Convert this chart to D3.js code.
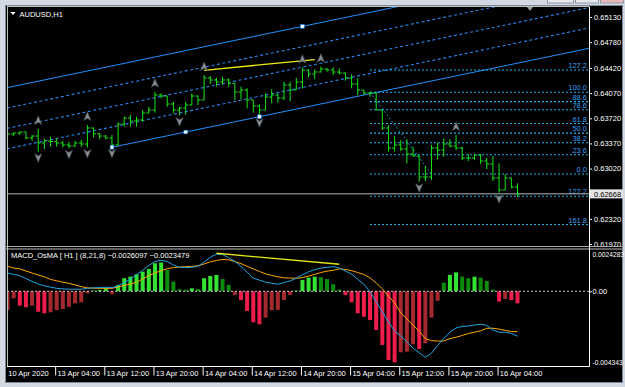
<!DOCTYPE html>
<html><head><meta charset="utf-8">
<script src="https://cdn.jsdelivr.net/npm/d3@7"></script>
<style>
html,body{margin:0;padding:0;background:#d2d9e3;overflow:hidden}
svg{display:block}
</style></head><body>
<svg id="c" width="625" height="387"></svg>
<script>
// ---------- DATA ----------
const symbolTitle = "AUDUSD,H1";
const opens=[0.63487,0.63501,0.63515,0.63529,0.63446,0.63473,0.63376,0.63404,0.63397,0.63376,
 0.63348,0.63334,0.63376,0.63362,0.63585,0.63505,0.63473,0.63446,0.63348,0.63640,
 0.63724,0.63682,0.63696,0.63794,0.63835,0.64044,0.64030,0.63919,0.63835,0.63863,
 0.63905,0.64030,0.63975,0.64281,0.64253,0.64225,0.64253,0.64207,0.64086,0.64114,
 0.63975,0.63891,0.63835,0.64016,0.64044,0.64002,0.64183,0.64114,0.64225,0.64392,
 0.64336,0.64364,0.64406,0.64392,0.64364,0.64350,0.64281,0.64197,0.64114,0.64072,
 0.64072,0.63835,0.63585,0.63306,0.63348,0.63292,0.63223,0.63195,0.62903,0.62903,
 0.63306,0.63278,0.63362,0.63334,0.63306,0.63167,0.63167,0.63209,0.63125,0.63084,
 0.62889,0.62722,0.62889,0.62763];
const highs=[0.63515,0.63519,0.63533,0.63533,0.63487,0.63571,0.63441,0.63464,0.63441,0.63408,
 0.63394,0.63408,0.63418,0.63627,0.63590,0.63511,0.63487,0.63487,0.63664,0.63742,
 0.63766,0.63742,0.63835,0.63881,0.64090,0.64068,0.64030,0.63951,0.63881,0.63951,
 0.64068,0.64035,0.64323,0.64309,0.64285,0.64299,0.64277,0.64207,0.64160,0.64137,
 0.63975,0.63915,0.64068,0.64124,0.64068,0.64229,0.64229,0.64285,0.64424,0.64402,
 0.64402,0.64438,0.64416,0.64430,0.64416,0.64355,0.64332,0.64277,0.64114,0.64090,
 0.64076,0.63835,0.63627,0.63473,0.63418,0.63428,0.63324,0.63200,0.63056,0.63348,
 0.63380,0.63441,0.63428,0.63487,0.63324,0.63223,0.63223,0.63223,0.63171,0.63195,
 0.63093,0.62940,0.62893,0.62815];
const lows=[0.63460,0.63473,0.63487,0.63428,0.63408,0.63255,0.63292,0.63324,0.63324,0.63316,
 0.63302,0.63324,0.63324,0.63313,0.63455,0.63428,0.63428,0.63316,0.63338,0.63603,
 0.63603,0.63603,0.63673,0.63790,0.63798,0.63998,0.63881,0.63790,0.63759,0.63766,
 0.63905,0.63905,0.63975,0.64197,0.64160,0.64183,0.64160,0.63975,0.63984,0.63859,
 0.63798,0.63742,0.63835,0.63929,0.63937,0.63975,0.63961,0.64114,0.64137,0.64291,
 0.64263,0.64360,0.64369,0.64323,0.64332,0.64243,0.64137,0.64044,0.64044,0.64021,
 0.63835,0.63557,0.63255,0.63255,0.63265,0.63093,0.63185,0.62837,0.62843,0.62861,
 0.63149,0.63185,0.63316,0.63278,0.63139,0.63125,0.63139,0.63084,0.63010,0.62847,
 0.62684,0.62720,0.62745,0.62628];
const closes=[0.63501,0.63515,0.63529,0.63446,0.63473,0.63376,0.63404,0.63397,0.63376,0.63348,
 0.63334,0.63376,0.63362,0.63585,0.63505,0.63473,0.63446,0.63348,0.63640,0.63724,
 0.63682,0.63696,0.63794,0.63835,0.64044,0.64030,0.63919,0.63835,0.63863,0.63905,
 0.64030,0.63975,0.64281,0.64253,0.64225,0.64253,0.64207,0.64086,0.64114,0.63975,
 0.63891,0.63835,0.64016,0.64044,0.64002,0.64183,0.64114,0.64225,0.64392,0.64336,
 0.64364,0.64406,0.64392,0.64364,0.64350,0.64281,0.64197,0.64114,0.64072,0.64072,
 0.63835,0.63585,0.63306,0.63348,0.63292,0.63223,0.63195,0.62903,0.62903,0.63306,
 0.63278,0.63362,0.63334,0.63306,0.63167,0.63167,0.63209,0.63125,0.63084,0.62889,
 0.62722,0.62889,0.62763,0.62668];

const osma=[-0.00109,-0.00041,-0.00084,-0.00093,-0.00084,-0.00119,-0.00128,-0.00122,-0.00109,-0.00103,
 -0.00090,-0.00070,-0.00064,-0.00012,0.00005,0.00008,0.00017,-0.00017,0.00037,0.00076,
 0.00085,0.00099,0.00114,0.00130,0.00163,0.00167,0.00124,0.00056,0.00012,0.00009,
 0.00017,0.00013,0.00076,0.00089,0.00095,0.00071,0.00037,-0.00022,-0.00051,-0.00114,
 -0.00180,-0.00192,-0.00153,-0.00110,-0.00108,-0.00051,-0.00022,0.00005,0.00066,0.00079,
 0.00085,0.00082,0.00071,0.00041,0.00009,-0.00022,-0.00064,-0.00128,-0.00148,-0.00167,
 -0.00225,-0.00312,-0.00399,-0.00413,-0.00355,-0.00351,-0.00308,-0.00335,-0.00302,-0.00153,
 -0.00055,0.00050,0.00095,0.00110,0.00085,0.00076,0.00085,0.00079,0.00060,0.00009,
 -0.00060,-0.00045,-0.00051,-0.00070];
const macd=[0.00106,0.00098,0.00091,0.00074,0.00057,0.00042,0.00031,0.00024,0.00017,0.00014,
 0.00012,0.00012,0.00012,0.00017,0.00020,0.00022,0.00023,0.00022,0.00031,0.00051,
 0.00071,0.00097,0.00122,0.00150,0.00173,0.00180,0.00173,0.00153,0.00139,0.00138,
 0.00139,0.00146,0.00170,0.00198,0.00215,0.00213,0.00195,0.00174,0.00144,0.00111,
 0.00076,0.00065,0.00053,0.00047,0.00041,0.00051,0.00060,0.00076,0.00095,0.00113,
 0.00126,0.00135,0.00139,0.00143,0.00135,0.00118,0.00099,0.00070,0.00041,-0.00002,
 -0.00062,-0.00120,-0.00178,-0.00231,-0.00260,-0.00295,-0.00330,-0.00357,-0.00384,-0.00360,
 -0.00315,-0.00274,-0.00237,-0.00213,-0.00204,-0.00202,-0.00196,-0.00192,-0.00198,-0.00225,
 -0.00238,-0.00238,-0.00245,-0.0026097];
const signal=[0.00145,0.00135,0.00130,0.00118,0.00106,0.00095,0.00084,0.00069,0.00061,0.00053,
 0.00046,0.00037,0.00027,0.00020,0.00018,0.00017,0.00017,0.00017,0.00025,0.00034,
 0.00041,0.00053,0.00071,0.00091,0.00106,0.00120,0.00131,0.00138,0.00141,0.00143,
 0.00145,0.00148,0.00159,0.00171,0.00179,0.00185,0.00183,0.00172,0.00161,0.00145,
 0.00130,0.00115,0.00101,0.00092,0.00084,0.00078,0.00077,0.00076,0.00079,0.00088,
 0.00098,0.00109,0.00117,0.00122,0.00130,0.00127,0.00120,0.00109,0.00098,0.00078,
 0.00048,0.00015,-0.00029,-0.00067,-0.00126,-0.00161,-0.00197,-0.00231,-0.00275,-0.00287,
 -0.00289,-0.00289,-0.00275,-0.00267,-0.00257,-0.00246,-0.00238,-0.00230,-0.00215,-0.00215,
 -0.00220,-0.00227,-0.00234,-0.0023479];
const macdName = "MACD_OsMA [ H1 ] (8,21,8)";
const macdMax = 0.0024283, macdMin = -0.004343;
const macdTickLabels = ["0.0024283","0.00","-0.004343"];

const priceTicks=[0.65130,0.64780,0.64420,0.64070,0.63720,0.63370,0.63020,0.62320,0.61970];
const bidPrice=0.62668;
const timeIdx=[0,8,16,24,32,40,48,56,64,72,80];
const timeLabels=["10 Apr 2020","13 Apr 04:00","13 Apr 12:00","13 Apr 20:00","14 Apr 04:00","14 Apr 12:00","14 Apr 20:00","15 Apr 04:00","15 Apr 12:00","15 Apr 20:00","16 Apr 04:00"];

const fractalUp=[5,13,24,32,48,51,73];
const fractalDown=[5,10,13,17,28,41,67,80];

const channelBase=[{i:17,p:0.63316},{i:41,p:0.63742}];
const channelWidth=0.011332;
const channelLevels=[0,0.25,0.5,0.75,1];
const channelPoints=[{i:17,l:0},{i:29,l:0},{i:41,l:0},{i:48,l:1}];
const trendMain=[{i:32,p:0.64388},{i:50,p:0.64538}];
const fibAnchors=[{i:59,p:0.64082},{i:69,p:0.62944}];
const fibLevels=[1.272,1,0.886,0.786,0.618,0.5,0.382,0.236,0,-0.272,-0.618];
const fibLabels=["127.2","100.0","88.6","78.6","61.8","50.0","38.2","23.6","0.0","127.2","161.8"];
const trendMacd=[{i:34,v:0.00221},{i:54,v:0.00157}];

// ---------- LAYOUT ----------
const L=7, R=589, T=7, MB=246, MT=249.5, B=366;
const FONT='"Liberation Sans", Arial, sans-serif';
const svg=d3.select("#c");
const x=d3.scaleLinear().domain([0,83]).range([7.5,517.5]);
const yP=d3.scaleLinear().domain([0.6197,0.6513]).range([244,17]);
const yM=d3.scaleLinear().domain([macdMin,macdMax]).range([B,MT]);

// window
svg.append("rect").attr("x",5.5).attr("y",5.5).attr("width",617).attr("height",377)
  .attr("fill","#000").attr("stroke","#7d8896");
[[547,26,"#e4e8ee"],[575,23,"#e4e8ee"],[600,23,"#e9b9b9"]].forEach(b=>{
  svg.append("rect").attr("x",b[0]+0.5).attr("y",-2).attr("width",b[1]).attr("height",5)
   .attr("fill",b[2]).attr("stroke","#8e9aa8");
});

const defs=svg.append("defs");
defs.append("clipPath").attr("id","cm").append("rect").attr("x",L).attr("y",T).attr("width",R-L).attr("height",MB-T);
defs.append("clipPath").attr("id","cd").append("rect").attr("x",L).attr("y",MT).attr("width",R-L).attr("height",B-MT);
const gM=svg.append("g").attr("clip-path","url(#cm)");
const gD=svg.append("g").attr("clip-path","url(#cd)");

// ---- channel ----
const chSlope=(channelBase[1].p-channelBase[0].p)/(channelBase[1].i-channelBase[0].i);
const chPrice=(i,l)=>channelBase[0].p+chSlope*(i-channelBase[0].i)+l*channelWidth;
const iL=x.invert(L), iR=x.invert(R);
channelLevels.forEach(l=>{
  const solid=(l===0||l===1);
  const i0=l===0?channelBase[0].i:iL;
  gM.append("line").attr("x1",x(i0)).attr("y1",yP(chPrice(i0,l)))
    .attr("x2",x(iR)).attr("y2",yP(chPrice(iR,l)))
    .attr("stroke",solid?"#1e90ff":"#2a88f0").attr("stroke-width",solid?1:1.1)
    .attr("stroke-dasharray",solid?null:"3,2.5");
});

// ---- fibonacci ----
const fibP=l=>fibAnchors[1].p+l*(fibAnchors[0].p-fibAnchors[1].p);
fibLevels.forEach((l,k)=>{
  const yy=yP(fibP(l));
  gM.append("line").attr("x1",x(fibAnchors[0].i)).attr("x2",R-1).attr("y1",yy).attr("y2",yy)
    .attr("stroke","#1eb6f0").attr("stroke-width",1.1).attr("stroke-dasharray","2,2");
  gM.append("text").attr("x",R-2).attr("y",yy-2).attr("text-anchor","end")
    .attr("font-family",FONT).attr("font-size",7.5).attr("fill","#3a9df2").text(fibLabels[k]);
});
gM.append("line").attr("x1",x(fibAnchors[0].i)).attr("y1",yP(fibAnchors[0].p))
  .attr("x2",x(fibAnchors[1].i)).attr("y2",yP(fibAnchors[1].p))
  .attr("stroke","#1eb6f0").attr("stroke-dasharray","1.5,2.5");

// ---- yellow trendline ----
gM.append("line").attr("x1",x(trendMain[0].i)).attr("y1",yP(trendMain[0].p))
  .attr("x2",x(trendMain[1].i)).attr("y2",yP(trendMain[1].p))
  .attr("stroke","#eeee10").attr("stroke-width",1.3);

// ---- bid line ----
gM.append("line").attr("x1",L).attr("x2",R).attr("y1",yP(bidPrice)).attr("y2",yP(bidPrice))
  .attr("stroke","#b4b4b4");

// ---- OHLC bars ----
const bars=gM.append("g").attr("stroke","#16e616").attr("stroke-width",1).attr("fill","none");
closes.forEach((c,i)=>{
  const xi=x(i);
  bars.append("line").attr("x1",xi).attr("x2",xi).attr("y1",yP(highs[i])).attr("y2",yP(lows[i]));
  bars.append("line").attr("x1",xi-2.5).attr("x2",xi).attr("y1",yP(opens[i])).attr("y2",yP(opens[i]));
  bars.append("line").attr("x1",xi).attr("x2",xi+2.5).attr("y1",yP(c)).attr("y2",yP(c));
});

// ---- fractals ----
const arrow=(cx,cy,up)=>{
  const s=up?1:-1;
  return `M${cx},${cy-4.5*s} L${cx+3.6},${cy+4*s} L${cx},${cy+1.8*s} L${cx-3.6},${cy+4*s} Z`;
};
fractalUp.forEach(i=>{
  gM.append("path").attr("d",arrow(x(i),yP(highs[i])-8.5,true)).attr("fill","#878d95").attr("stroke","#4a4f56").attr("stroke-width",0.6);
});
fractalDown.forEach(i=>{
  gM.append("path").attr("d",arrow(x(i),yP(lows[i])+6,false)).attr("fill","#878d95").attr("stroke","#4a4f56").attr("stroke-width",0.6);
});

// ---- channel anchor points ----
channelPoints.forEach(pt=>{
  gM.append("rect").attr("x",x(pt.i)-1.8).attr("y",yP(chPrice(pt.i,pt.l))-1.8).attr("width",3.6).attr("height",3.6)
    .attr("fill","#fff").attr("stroke","#1e90ff").attr("stroke-width",0.6);
});

// chart shift marker
svg.append("path").attr("d","M527,7 L533,7 L530,11 Z").attr("fill","#9a9a9a");

// title
svg.append("path").attr("d","M10.5,12 L15.5,12 L13,15 Z").attr("fill","#fff");
svg.append("text").attr("x",19.5).attr("y",16.5).attr("font-family",FONT).attr("font-size",7.5)
  .attr("fill","#fff").text(symbolTitle);

// ---- MACD panel ----
const hColor=(v,i)=>{
  const prev=i>0?Math.abs(osma[i-1]):Infinity;
  const grow=Math.abs(v)>prev;
  if(v>=0) return grow?"#34e234":"#0b8c0b";
  return grow?"#ee1d4b":"#a4292e";
};
gD.selectAll("rect.h").data(osma).join("rect").attr("class","h")
  .attr("x",(d,i)=>x(i)-2).attr("width",4)
  .attr("y",d=>yM(Math.max(d,0))).attr("height",d=>Math.abs(yM(d)-yM(0)))
  .attr("fill",(d,i)=>hColor(d,i));
gD.append("line").attr("x1",L).attr("x2",R).attr("y1",yM(0)).attr("y2",yM(0))
  .attr("stroke","#c8c8c8").attr("stroke-dasharray","2,2");
const ln=d3.line().x((d,i)=>x(i)).y(d=>yM(d));
gD.append("path").attr("d",ln(signal)).attr("fill","none").attr("stroke","#ffa500").attr("stroke-width",1);
gD.append("path").attr("d",ln(macd)).attr("fill","none").attr("stroke","#1ea6e6").attr("stroke-width",1);
gD.append("line").attr("x1",x(trendMacd[0].i)).attr("y1",yM(trendMacd[0].v))
  .attr("x2",x(trendMacd[1].i)).attr("y2",yM(trendMacd[1].v))
  .attr("stroke","#e6e614").attr("stroke-width",1.3);
const f7=d3.format(".7f");
svg.append("text").attr("x",11).attr("y",258.3).attr("font-family",FONT).attr("font-size",7.5)
  .attr("fill","#fff").text(`${macdName}  ${f7(macd[macd.length-1])} ${f7(signal[signal.length-1])}`);

// ---- price axis ----
const gA=svg.append("g").attr("transform",`translate(${R},0)`)
  .call(d3.axisRight(yP).tickValues(priceTicks).tickFormat(d3.format(".5f")).tickSize(3).tickPadding(2));
gA.attr("font-family",FONT).attr("font-size",7.5);
gA.select(".domain").remove();
gA.selectAll("line").attr("stroke","#fff");
gA.selectAll("text").attr("fill","#fff");

// bid label box
const yb=yP(bidPrice);
svg.append("rect").attr("x",590).attr("y",yb-4.5).attr("width",33).attr("height",9).attr("fill","#e6e6e6");
svg.append("text").attr("x",594).attr("y",yb+2.7).attr("font-family",FONT).attr("font-size",7.5)
  .attr("fill","#000").text(d3.format(".5f")(bidPrice));

// separator between windows
svg.append("rect").attr("x",6).attr("y",246).attr("width",616).attr("height",3.5).attr("fill","#000");
svg.append("line").attr("x1",6).attr("x2",622).attr("y1",246.5).attr("y2",246.5).attr("stroke","#a8a8a8");
svg.append("line").attr("x1",6).attr("x2",622).attr("y1",249).attr("y2",249).attr("stroke","#bdbdbd");

// macd axis
const gA2=svg.append("g").attr("transform",`translate(${R},0)`)
  .call(d3.axisRight(yM).tickValues([macdMax,0,macdMin]).tickFormat((d,i)=>macdTickLabels[i]).tickSize(3).tickPadding(0.5));
gA2.attr("font-family",FONT).attr("font-size",7.5);
gA2.select(".domain").remove();
gA2.selectAll("line").attr("stroke","#fff");
gA2.selectAll("text").attr("fill","#fff")
  .attr("font-size",(d,i)=>i===1?7.5:6.7)
  .attr("dy",(d,i)=>i===0?"1.1em":(i===2?"-0.25em":"0.32em"));
gA2.selectAll(".tick line").filter((d,i)=>i!==1).remove();

// frame lines
svg.append("line").attr("x1",R+0.5).attr("x2",R+0.5).attr("y1",T).attr("y2",B+0.5).attr("stroke","#fff");
svg.append("line").attr("x1",L).attr("x2",R+0.5).attr("y1",B+0.5).attr("y2",B+0.5).attr("stroke","#fff");
svg.append("line").attr("x1",L+0.5).attr("x2",L+0.5).attr("y1",T).attr("y2",B).attr("stroke","#bfbfbf");
svg.append("line").attr("x1",L).attr("x2",R+0.5).attr("y1",T-0.5).attr("y2",T-0.5).attr("stroke","#bfbfbf");

// ---- time axis ----
const gT=svg.append("g").attr("transform",`translate(-1.5,${B+0.5})`)
  .call(d3.axisBottom(x).tickValues(timeIdx).tickFormat((d,i)=>timeLabels[i]).tickSize(9).tickSizeOuter(0));
gT.attr("font-family",FONT).attr("font-size",7.5);
gT.select(".domain").remove();
gT.selectAll(".tick line").attr("stroke","#fff").filter((d,i)=>i===0).remove();
gT.selectAll(".tick text").attr("fill","#fff").attr("text-anchor","start").attr("x",1.8).attr("y",9.3).attr("dy",null);
</script>
</body></html>
